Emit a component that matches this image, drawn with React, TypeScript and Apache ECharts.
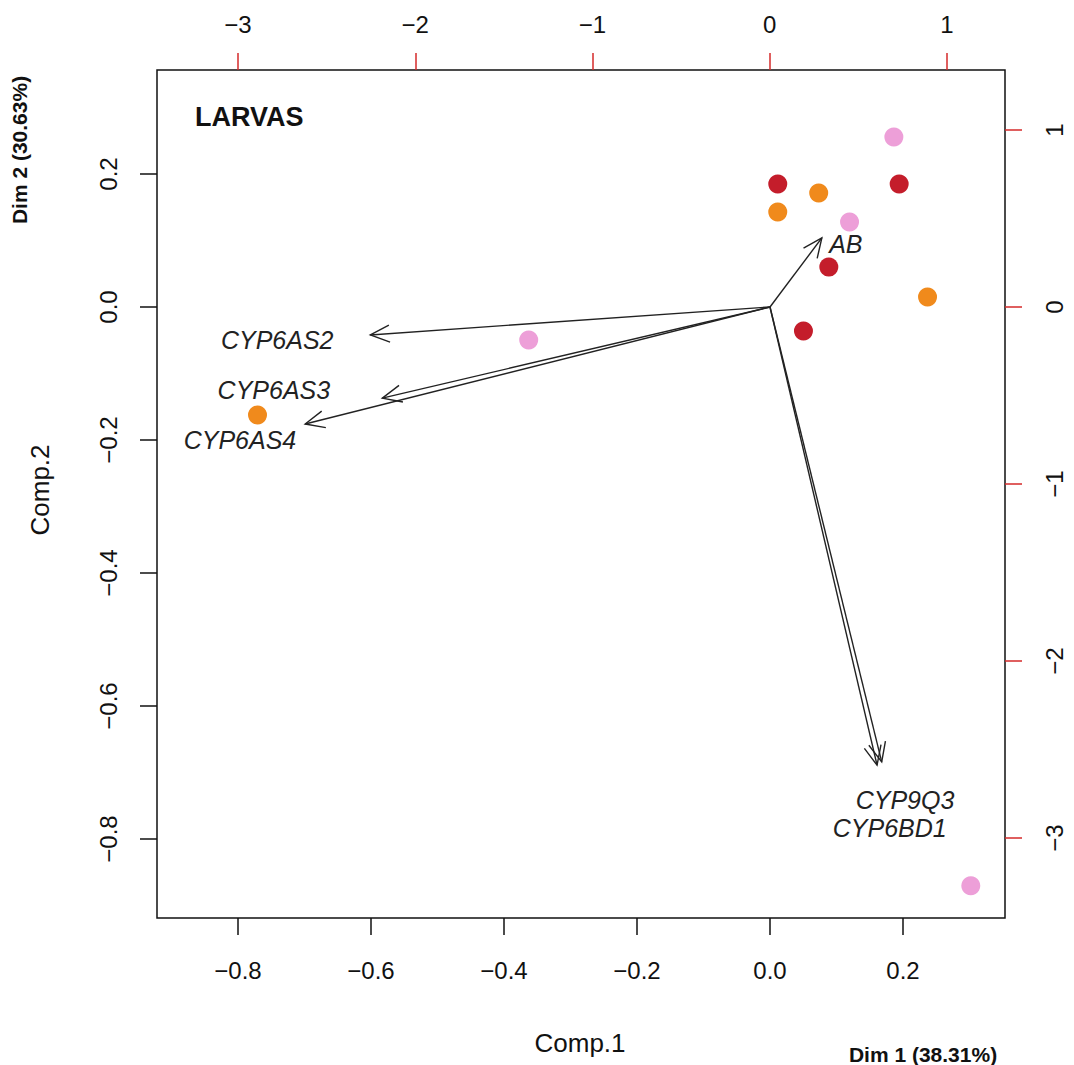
import React, { useEffect, useRef } from "react";
import * as echarts from "echarts";

// Individuals (plotted on Dim 1 / Dim 2 scale: top & right axes)
const redPoints: number[][] = [
  [0.045, 0.695],
  [0.73, 0.695],
  [0.333, 0.226],
  [0.19, -0.136],
];
const orangePoints: number[][] = [
  [0.276, 0.644],
  [0.045, 0.537],
  [0.89, 0.056],
  [-2.89, -0.61],
];
const pinkPoints: number[][] = [
  [0.70, 0.96],
  [0.45, 0.48],
  [-1.36, -0.186],
  [1.134, -3.27],
];

// Variables (loadings on Comp.1 / Comp.2: bottom & left axes)
const varNames = ["AB", "CYP6AS2", "CYP6AS3", "CYP6AS4", "CYP9Q3", "CYP6BD1"];
const arrowX = [0.078, -0.601, -0.583, -0.699, 0.168, 0.161];
const arrowY = [0.104, -0.042, -0.137, -0.176, -0.684, -0.689];
const labelX = [0.114, -0.741, -0.746, -0.797, 0.203, 0.18];
const labelY = [0.095, -0.05, -0.125, -0.2, -0.741, -0.784];

// Tick values
const compXTicks = [-0.8, -0.6, -0.4, -0.2, 0.0, 0.2];
const compYTicks = [-0.8, -0.6, -0.4, -0.2, 0.0, 0.2];
const dimXTicks = [-3, -2, -1, 0, 1];
const dimYTicks = [-3, -2, -1, 0, 1];

const FONT = "Liberation Sans, Arial, sans-serif";

const fmtDec = (v: number) => v.toFixed(1).replace("-", "\u2212");
const fmtInt = (v: number) => String(Math.round(v)).replace("-", "\u2212");

export default function App() {
  const ref = useRef<HTMLDivElement>(null);

  useEffect(() => {
    if (!ref.current) return;
    const chart = echarts.init(ref.current, null, { renderer: "svg" });

    const tickLabel = {
      fontSize: 24,
      color: "#111",
      fontFamily: FONT,
    };

    const arrowData = varNames.map((n, i) => [arrowX[i], arrowY[i], n]);
    const labelData = varNames.map((n, i) => [labelX[i], labelY[i], n]);

    const option: any = {
      animation: false,
      backgroundColor: "#fff",
      grid: {
        left: 157,
        top: 70,
        width: 848,
        height: 848,
        show: true,
        borderColor: "#111",
        borderWidth: 1.5,
        backgroundColor: "transparent",
      },
      xAxis: [
        {
          type: "value",
          position: "bottom",
          min: -0.9218,
          max: 0.3534,
          axisLine: { show: false, onZero: false },
          splitLine: { show: false },
          axisTick: {
            show: true,
            length: 17,
            lineStyle: { color: "#111", width: 1.5 },
            customValues: compXTicks,
          },
          axisLabel: {
            ...tickLabel,
            margin: 40,
            customValues: compXTicks,
            formatter: fmtDec,
          },
        },
        {
          type: "value",
          position: "top",
          min: -3.457,
          max: 1.327,
          axisLine: { show: false, onZero: false },
          splitLine: { show: false },
          axisTick: {
            show: true,
            length: 17,
            lineStyle: { color: "#d42a2a", width: 1.5 },
            customValues: dimXTicks,
          },
          axisLabel: {
            ...tickLabel,
            margin: 34,
            customValues: dimXTicks,
            formatter: fmtInt,
          },
        },
      ],
      yAxis: [
        {
          type: "value",
          position: "left",
          min: -0.9188,
          max: 0.3564,
          axisLine: { show: false, onZero: false },
          splitLine: { show: false },
          axisTick: {
            show: true,
            length: 17,
            lineStyle: { color: "#111", width: 1.5 },
            customValues: compYTicks,
          },
          axisLabel: {
            ...tickLabel,
            margin: 37,
            rotate: 90,
            customValues: compYTicks,
            formatter: fmtDec,
          },
        },
        {
          type: "value",
          position: "right",
          min: -3.452,
          max: 1.339,
          axisLine: { show: false, onZero: false },
          splitLine: { show: false },
          axisTick: {
            show: true,
            length: 17,
            lineStyle: { color: "#d42a2a", width: 1.5 },
            customValues: dimYTicks,
          },
          axisLabel: {
            ...tickLabel,
            margin: 37,
            rotate: 90,
            customValues: dimYTicks,
            formatter: fmtInt,
          },
        },
      ],
      graphic: [
        {
          type: "text",
          left: 195,
          top: 103,
          style: {
            text: "LARVAS",
            font: `bold 27px ${FONT}`,
            fill: "#111",
          },
        },
        {
          type: "text",
          x: 580,
          y: 1043,
          style: {
            text: "Comp.1",
            font: `26px ${FONT}`,
            fill: "#111",
            align: "center",
            verticalAlign: "middle",
          },
        },
        {
          type: "text",
          x: 40,
          y: 490,
          rotation: Math.PI / 2,
          style: {
            text: "Comp.2",
            font: `26px ${FONT}`,
            fill: "#111",
            align: "center",
            verticalAlign: "middle",
          },
        },
        {
          type: "text",
          x: 923,
          y: 1054,
          style: {
            text: "Dim 1 (38.31%)",
            font: `bold 21px ${FONT}`,
            fill: "#111",
            align: "center",
            verticalAlign: "middle",
          },
        },
        {
          type: "text",
          x: 19,
          y: 150,
          rotation: Math.PI / 2,
          style: {
            text: "Dim 2 (30.63%)",
            font: `bold 21px ${FONT}`,
            fill: "#111",
            align: "center",
            verticalAlign: "middle",
          },
        },
      ],
      series: [
        {
          type: "custom",
          xAxisIndex: 0,
          yAxisIndex: 0,
          data: arrowData,
          renderItem: (params: any, api: any) => {
            const o = api.coord([0, 0]);
            const t = api.coord([api.value(0), api.value(1)]);
            const ang = Math.atan2(t[1] - o[1], t[0] - o[0]);
            const L = 21;
            const a = Math.PI / 7.5;
            const h1 = [t[0] - L * Math.cos(ang - a), t[1] - L * Math.sin(ang - a)];
            const h2 = [t[0] - L * Math.cos(ang + a), t[1] - L * Math.sin(ang + a)];
            return {
              type: "group",
              children: [
                {
                  type: "line",
                  shape: { x1: o[0], y1: o[1], x2: t[0], y2: t[1] },
                  style: { stroke: "#222", lineWidth: 1.4 },
                },
                {
                  type: "polyline",
                  shape: { points: [h1, t, h2] },
                  style: { stroke: "#222", fill: null, lineWidth: 1.4 },
                },
              ],
            };
          },
          z: 3,
        },
        {
          type: "custom",
          xAxisIndex: 0,
          yAxisIndex: 0,
          data: labelData,
          renderItem: (params: any, api: any) => {
            const p = api.coord([api.value(0), api.value(1)]);
            return {
              type: "text",
              x: p[0],
              y: p[1],
              style: {
                text: varNames[params.dataIndex],
                font: `italic 25px ${FONT}`,
                fill: "#222",
                align: "center",
                verticalAlign: "middle",
              },
            };
          },
          z: 4,
        },
        {
          type: "scatter",
          name: "red",
          xAxisIndex: 1,
          yAxisIndex: 1,
          data: redPoints,
          symbol: "circle",
          symbolSize: 19,
          itemStyle: { color: "#c41d2b", opacity: 1 },
          z: 2,
        },
        {
          type: "scatter",
          name: "orange",
          xAxisIndex: 1,
          yAxisIndex: 1,
          data: orangePoints,
          symbol: "circle",
          symbolSize: 19,
          itemStyle: { color: "#f08a1c", opacity: 1 },
          z: 2,
        },
        {
          type: "scatter",
          name: "pink",
          xAxisIndex: 1,
          yAxisIndex: 1,
          data: pinkPoints,
          symbol: "circle",
          symbolSize: 19,
          itemStyle: { color: "#ed9fd8", opacity: 1 },
          z: 2,
        },
      ],
    };

    chart.setOption(option);
    return () => chart.dispose();
  }, []);

  return (
    <div
      ref={ref}
      style={{ position: "absolute", left: 0, top: 0, width: 1074, height: 1065, background: "#fff" }}
    />
  );
}
